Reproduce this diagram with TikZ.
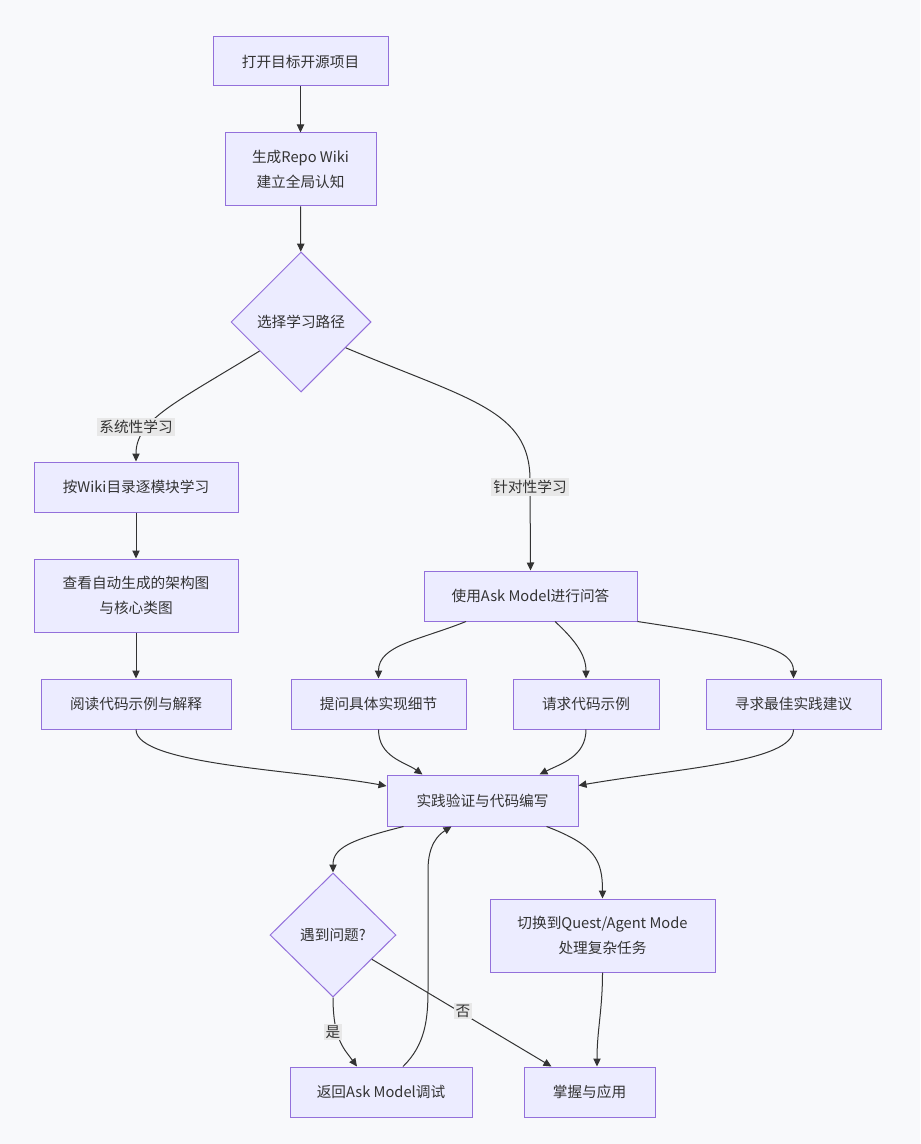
\documentclass[tikz,border=0pt]{standalone}
\usepackage{fontspec}
\setmainfont{Noto Sans CJK SC}
\usetikzlibrary{shapes.geometric,arrows.meta,calc}
\definecolor{nodefill}{HTML}{ECECFF}
\definecolor{nodeline}{HTML}{9370DB}
\definecolor{edgecol}{HTML}{333333}
\definecolor{bgcol}{HTML}{F8F9FB}
\definecolor{lblbg}{HTML}{E8E8E8}
\begin{document}
\begin{tikzpicture}[x=0.75pt,y=-0.75pt,
 box/.style={draw=nodeline,fill=nodefill,line width=0.75pt,inner sep=0pt,align=center,text=edgecol,font=\fontsize{11}{18.5}\selectfont},
 bw/.style={minimum width=#1*0.75pt},
 bh/.style={minimum height=#1*0.75pt},
 dia/.style={box,shape=diamond,aspect=1},
 flow/.style={draw=edgecol,line width=0.75pt,-{Triangle[length=6pt,width=5.5pt]}},
 lbl/.style={fill=lblbg,inner sep=1.5pt,text=edgecol,font=\fontsize{11}{13}\selectfont}]
\fill[bgcol] (0,0) rectangle (920,1144);
\useasboundingbox (0,0) rectangle (920,1144);

\node[box,bw=175,bh=49] (n1) at (300.5,61.5) {打开目标开源项目};
\node[box,bw=151,bh=73] (n2) at (300.5,169.5) {生成Repo Wiki\\建立全局认知};
\node[dia,bw=140,bh=140] (d1) at (301,322) {选择学习路径};
\node[box,bw=204,bh=50] (n4) at (136,487) {按Wiki目录逐模块学习};
\node[box,bw=204,bh=73] (n5) at (136,595.5) {查看自动生成的架构图\\与核心类图};
\node[box,bw=190,bh=50] (n6) at (136,704) {阅读代码示例与解释};
\node[box,bw=213,bh=50] (n7) at (530.5,596) {使用Ask Model进行问答};
\node[box,bw=175,bh=50] (n8) at (378.5,704) {提问具体实现细节};
\node[box,bw=146,bh=50] (n9) at (586,704) {请求代码示例};
\node[box,bw=175,bh=50] (n10) at (793.5,704) {寻求最佳实践建议};
\node[box,bw=191,bh=51] (n11) at (482.5,800.5) {实践验证与代码编写};
\node[dia,bw=126,bh=124] (d2) at (333,935) {遇到问题?};
\node[box,bw=225,bh=73] (n13) at (602.5,935.5) {切换到Quest/Agent Mode\\处理复杂任务};
\node[box,bw=182,bh=50] (n14) at (381,1092) {返回Ask Model调试};
\node[box,bw=131,bh=50] (n15) at (589.5,1092) {掌握与应用};

\draw[flow] (n1) -- (n2);
\draw[flow] (n2) -- (d1);
\draw[flow] (d1.215) .. controls (175,403) and (136,420) .. (n4.north);
\draw[flow] (d1.-30) .. controls (470,400) and (530,410) .. (530,480) -- (n7.north);
\draw[flow] (n4) -- (n5);
\draw[flow] (n5) -- (n6);
\draw[flow] ($(n7.south)+(-64.5,0)$) .. controls (420,640) and (378.5,645) .. (n8.north);
\draw[flow] ($(n7.south)+(24.5,0)$) .. controls (575,640) and (586,655) .. (n9.north);
\draw[flow] (n7.south east) .. controls (760,640) and (793.5,650) .. (n10.north);
\draw[flow] (n6.south) .. controls (136,765) and (300,770) .. ($(n11.west)+(0,-14.5)$);
\draw[flow] (n8.south) .. controls (378.5,757) and (405,762) .. ($(n11.north west)+(36,0)$);
\draw[flow] (n9.south) .. controls (586,757) and (560,764) .. ($(n11.north west)+(153,0)$);
\draw[flow] (n10.south) .. controls (793.5,762) and (680,768) .. ($(n11.east)+(0,-15)$);
\draw[flow] ($(n11.south west)+(17,0)$) .. controls (350,840) and (333,848) .. (d2.north);
\draw[flow] ($(n11.south east)+(-32,0)$) .. controls (595,845) and (602.5,860) .. (n13.north);
\draw[flow] (d2.south) .. controls (333,1040) and (345,1050) .. ($(n14.north)+(-24,0)$);
\draw[flow] (d2.-32) -- ($(n15.north west)+(28,0)$);
\draw[flow] ($(n14.north)+(22,0)$) .. controls (425,1045) and (428,1020) .. (428,990) -- (428,870) .. controls (428,845) and (438,835) .. ($(n11.south west)+(65,0)$);
\draw[flow] (n13.south) .. controls (602.5,1010) and (597,1030) .. ($(n15.north)+(7.5,0)$);

\node[lbl] (l1) at (136,427) {系统性学习};
\node[lbl] (l2) at (530,487) {针对性学习};
\node[lbl] (l3) at (333,1032) {是};
\node[lbl] (l4) at (463,1011) {否};
\end{tikzpicture}
\end{document}
